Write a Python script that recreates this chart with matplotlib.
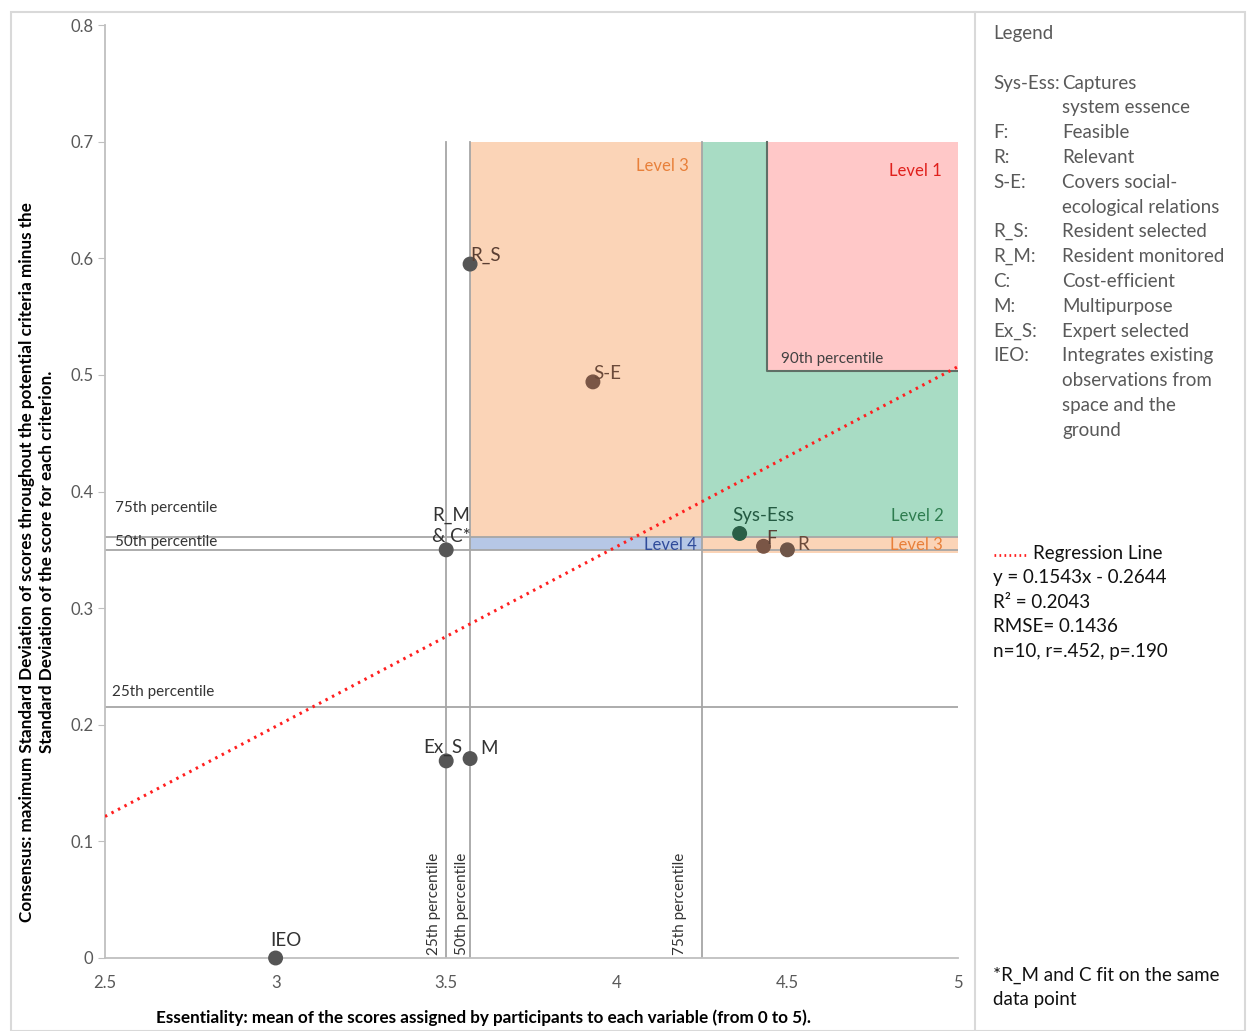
import matplotlib.pyplot as plt
import matplotlib.patches as mpatches
import numpy as np

plt.rcParams['font.family'] = ['Lato', 'DejaVu Sans']

# data points
names = ['R_S', 'S-E', 'R_M\n& C*', 'Sys-Ess', 'F', 'R', 'Ex_S', 'M', 'IEO']
essentiality = [3.57, 3.93, 3.50, 4.36, 4.43, 4.50, 3.50, 3.57, 3.00]
consensus = [0.595, 0.494, 0.350, 0.364, 0.353, 0.350, 0.169, 0.171, 0.0]

# percentile thresholds
x_p25, x_p50, x_p75, x_p90 = 3.50, 3.57, 4.25, 4.44
y_p25, y_p50, y_p75, y_p90 = 0.215, 0.350, 0.361, 0.503
y_top = 0.7

slope, intercept = 0.1543, -0.2644

legend_keys = ['Sys-Ess:', '', 'F:', 'R:', 'S-E:', '', 'R_S:', 'R_M:', 'C:', 'M:', 'Ex_S:', 'IEO:', '', '', '']
legend_vals = ['Captures', 'system essence', 'Feasible', 'Relevant', 'Covers social-',
               'ecological relations', 'Resident selected', 'Resident monitored',
               'Cost-efficient', 'Multipurpose', 'Expert selected', 'Integrates existing',
               'observations from', 'space and the', 'ground']

W, H = 1250, 1031
fig = plt.figure(figsize=(12.5, 10.31), dpi=100)
ax = fig.add_axes([105 / W, 1 - 958 / H, (958 - 105) / W, (958 - 25) / H])

peach = '#FBD4B7'
green = '#A8DCC4'
pink = '#FFC8C8'
blue = '#B6C7E6'

# coloured zones
ax.add_patch(mpatches.Rectangle((x_p50, y_p75), x_p75 - x_p50, y_top - y_p75, color=peach, lw=0, zorder=1))
ax.add_patch(mpatches.Rectangle((x_p50, y_p50), x_p75 - x_p50, y_p75 - y_p50, color=blue, lw=0, zorder=1))
ax.add_patch(mpatches.Rectangle((x_p75, y_p50 - 0.003), 5 - x_p75, y_p75 - y_p50 + 0.003, color=peach, lw=0, zorder=1))
ax.add_patch(mpatches.Rectangle((x_p75, y_p75), 5 - x_p75, y_top - y_p75, color=green, lw=0, zorder=1))
ax.add_patch(mpatches.Rectangle((x_p90, y_p90), 5 - x_p90, y_top - y_p90, color=pink, lw=0, zorder=1))

lc = '#a6a6a6'
for xv in [x_p25, x_p50, x_p75]:
    ax.plot([xv, xv], [0, y_top], color=lc, lw=1.3, zorder=2)
for yv in [y_p25, y_p50, y_p75]:
    ax.plot([2.5, 5], [yv, yv], color=lc, lw=1.3, zorder=2)
ax.plot([x_p90, x_p90, 5], [y_top, y_p90, y_p90], color='#5f6f66', lw=1.5, zorder=2)

# regression line
xr = np.array([2.5, 5])
ax.plot(xr, slope * xr + intercept, color='#ff1f1f', lw=2.2, linestyle=(0, (0.8, 1.6)), zorder=4)

# points
pt_colors = ['#555555', '#7a5646', '#555555', '#2a5f47', '#7a5646', '#6e5548', '#555555', '#555555', '#555555']
ax.scatter(essentiality, consensus, s=95, c=pt_colors, zorder=5, clip_on=False)

offsets = {'R_S': (0.0, 0.0, 'left'), 'S-E': (0.0, 0.0, 'left'), 'R_M\n& C*': (0.015, 0.0045, 'center'),
           'Sys-Ess': (0.07, 0.008, 'center'), 'F': (0.007, -0.001, 'left'), 'R': (0.03, -0.003, 'left'),
           'Ex_S': (-0.01, 0.004, 'center'), 'M': (0.03, 0.001, 'left'), 'IEO': (0.03, 0.008, 'center')}
lab_colors = {'R_S': '#5a3e32', 'S-E': '#6b4a3a', 'Sys-Ess': '#245a42', 'F': '#5a4035', 'R': '#6b4a3a'}
for n, xv, yv in zip(names, essentiality, consensus):
    dx, dy, ha = offsets[n]
    ax.text(xv + dx, yv + dy, n, ha=ha, va='bottom', fontsize=13.5, color=lab_colors.get(n, '#333333'),
            zorder=6, linespacing=1.25)

# zone labels
ax.text(4.21, 0.679, 'Level 3', color='#E8803A', fontsize=12, ha='right', va='center', zorder=6)
ax.text(4.953, 0.675, 'Level 1', color='#E0201C', fontsize=12, ha='right', va='center', zorder=6)
ax.text(4.48, 0.514, '90th percentile', color='#404040', fontsize=11, ha='left', va='center', zorder=6)
ax.text(4.958, 0.379, 'Level 2', color='#2E7D4F', fontsize=12, ha='right', va='center', zorder=6)
ax.text(4.955, 0.354, 'Level 3', color='#E8803A', fontsize=12, ha='right', va='center', zorder=6)
ax.text(4.235, 0.354, 'Level 4', color='#2F4B9A', fontsize=12, ha='right', va='center', zorder=6)

# percentile labels
ax.text(2.53, 0.386, '75th percentile', color='#333333', fontsize=11, ha='left', va='center', zorder=6)
ax.text(2.53, 0.3565, '50th percentile', color='#333333', fontsize=11, ha='left', va='center', zorder=6)
ax.text(2.52, 0.228, '25th percentile', color='#333333', fontsize=11, ha='left', va='center', zorder=6)
ax.text(x_p25 - 0.035, 0.003, '25th percentile', color='#333333', fontsize=11, rotation=90, ha='center', va='bottom', zorder=6)
ax.text(x_p50 - 0.025, 0.003, '50th percentile', color='#333333', fontsize=11, rotation=90, ha='center', va='bottom', zorder=6)
ax.text(x_p75 - 0.065, 0.003, '75th percentile', color='#333333', fontsize=11, rotation=90, ha='center', va='bottom', zorder=6)

ax.set_xlim(2.5, 5)
ax.set_ylim(0, 0.8)
ax.set_xticks([2.5, 3, 3.5, 4, 4.5, 5])
ax.set_xticklabels(['2.5', '3', '3.5', '4', '4.5', '5'])
ax.set_yticks([0, 0.1, 0.2, 0.3, 0.4, 0.5, 0.6, 0.7, 0.8])
ax.set_yticklabels(['0', '0.1', '0.2', '0.3', '0.4', '0.5', '0.6', '0.7', '0.8'])
ax.tick_params(axis='both', colors='#bfbfbf', labelcolor='#595959', labelsize=12, length=5)
ax.tick_params(axis='x', length=0, pad=12)
for s in ['top', 'right']:
    ax.spines[s].set_visible(False)
for s in ['left', 'bottom']:
    ax.spines[s].set_color('#bfbfbf')
    ax.spines[s].set_linewidth(1.3)

fig.text(37 / W, 1 - 562 / H,
         'Consensus: maximum Standard Deviation of scores throughout the potential criteria minus the\n'
         'Standard Deviation of the score for each criterion.',
         rotation=90, ha='center', va='center', fontsize=12.3, fontweight='bold', multialignment='center',
         linespacing=1.25)
fig.text(484 / W, 1 - 1018 / H,
         'Essentiality: mean of the scores assigned by participants to each variable (from 0 to 5).',
         ha='center', va='center', fontsize=12.3, fontweight='bold')

# frame and legend panel
fig.patches.append(mpatches.Rectangle((11 / W, 0), (1245 - 11) / W, 1 - 12 / H, transform=fig.transFigure,
                                      fill=False, edgecolor='#d9d9d9', lw=1.5))
fig.lines.append(plt.Line2D([975 / W, 975 / W], [0, 1 - 12 / H], transform=fig.transFigure,
                            color='#d9d9d9', lw=1.5))

fig.text(993 / W, 1 - 33 / H, 'Legend', color='#595959', fontsize=13.5, va='center')
for i, (k, v) in enumerate(zip(legend_keys, legend_vals)):
    yy = 1 - (83 + i * 24.8) / H
    fig.text(993 / W, yy, k, color='#595959', fontsize=13.5, va='center')
    fig.text(1062 / W, yy, v, color='#595959', fontsize=13.5, va='center')

fig.lines.append(plt.Line2D([994 / W, 1027 / W], [1 - 555 / H, 1 - 555 / H], transform=fig.transFigure,
                            color='#ff1f1f', lw=2, linestyle=(0, (0.6, 1.2))))
fig.text(1033 / W, 1 - 553 / H, 'Regression Line', fontsize=13.5, va='center', color='#111111')
stats = ['y = 0.1543x - 0.2644', 'R² = 0.2043', 'RMSE= 0.1436', 'n=10, r=.452, p=.190']
for i, s in enumerate(stats):
    fig.text(993 / W, 1 - (577 + i * 25) / H, s, fontsize=13.5, va='center', color='#111111')

fig.text(993 / W, 1 - 975 / H, '*R_M and C fit on the same', fontsize=13.5, va='center', color='#111111')
fig.text(993 / W, 1 - 999 / H, 'data point', fontsize=13.5, va='center', color='#111111')

fig.savefig('out.png', dpi=100)
